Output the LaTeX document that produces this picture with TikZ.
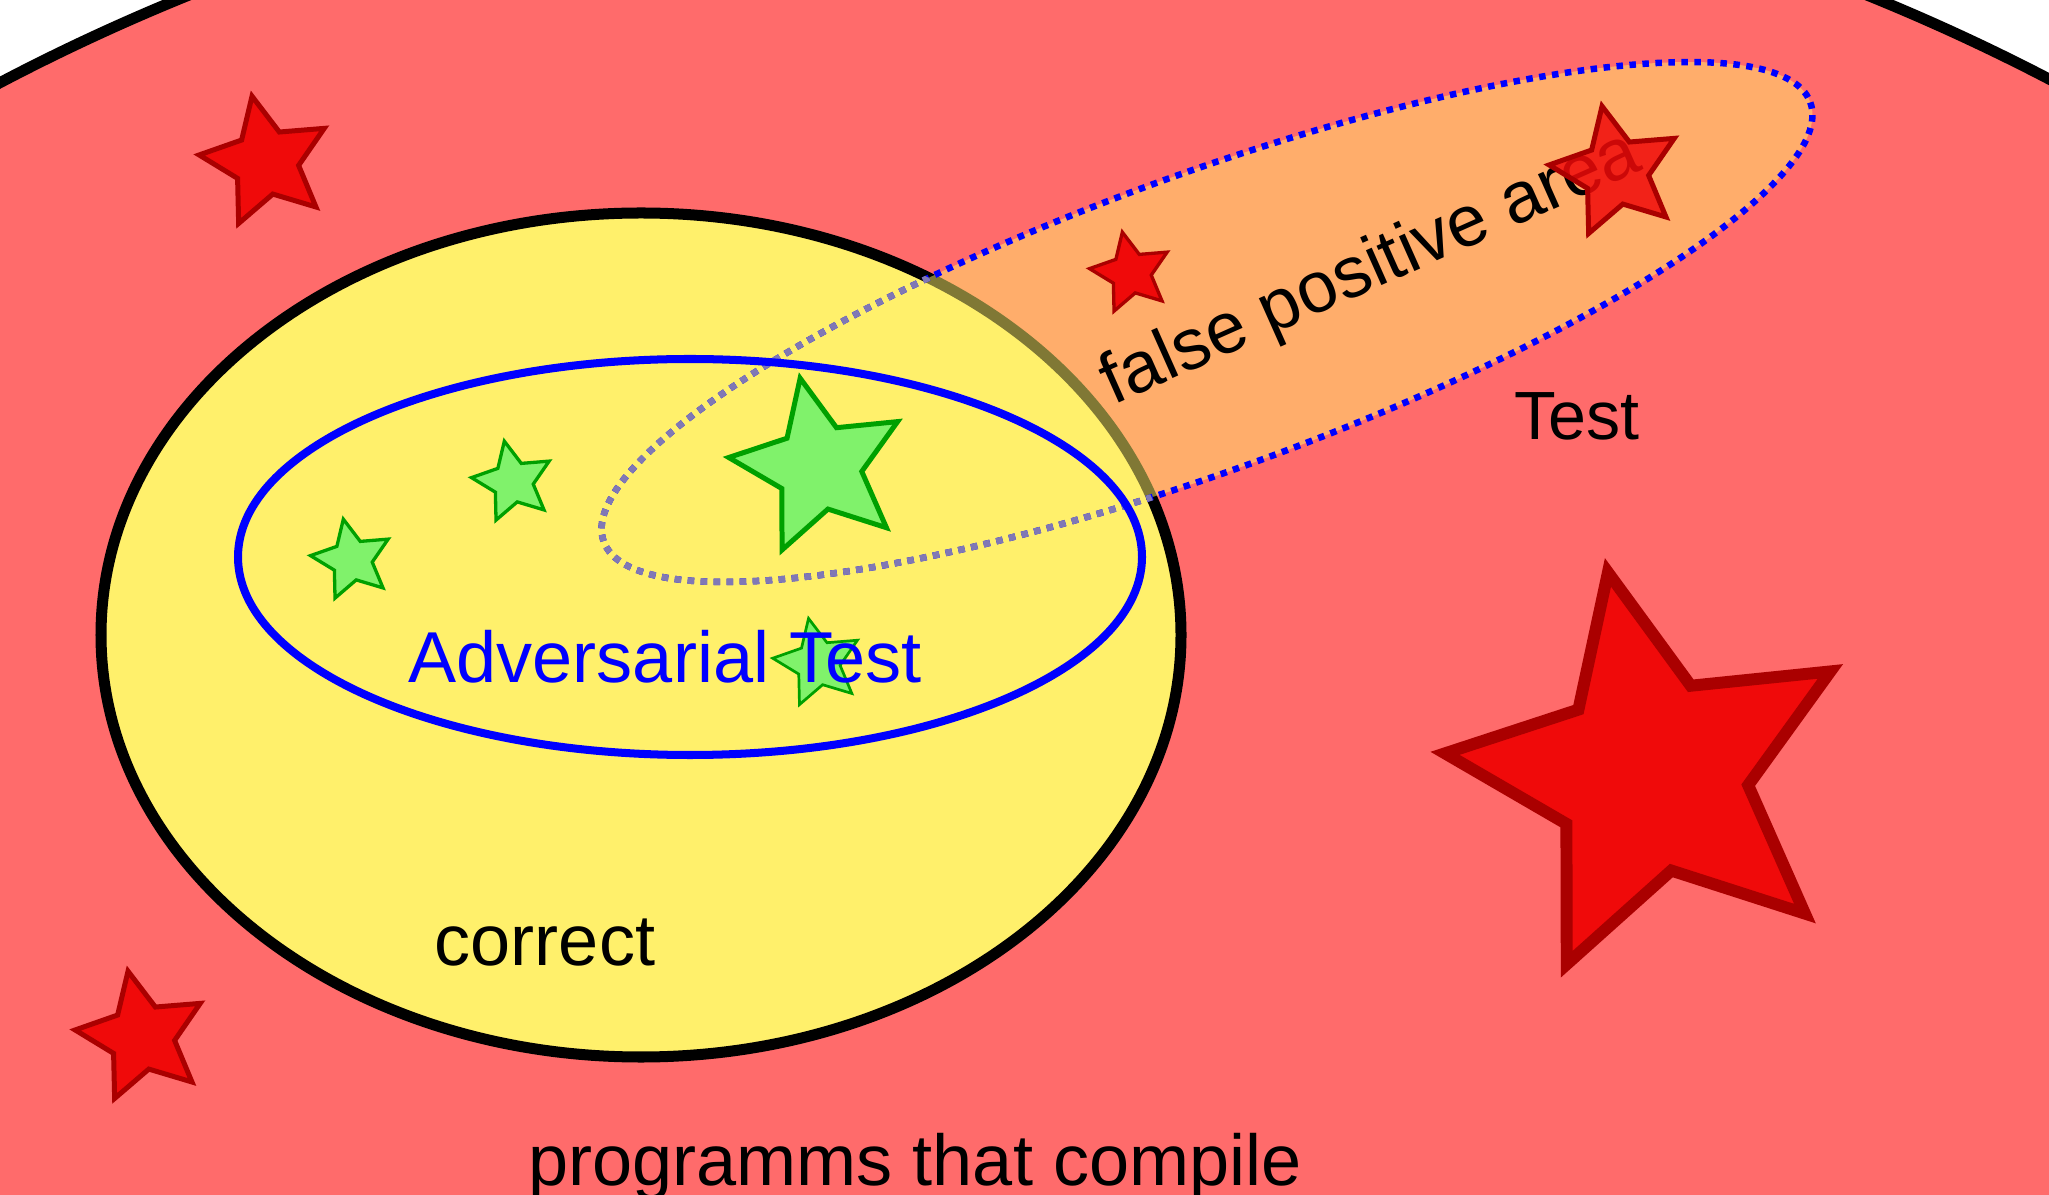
\documentclass[tikz,border=0pt]{standalone}
\usepackage{fontspec}
\setmainfont{Liberation Sans}
\usetikzlibrary{shapes.geometric}

\definecolor{compilered}{RGB}{255,107,107}
\definecolor{correctyellow}{RGB}{255,240,107}
\definecolor{starred}{RGB}{240,10,10}
\definecolor{stardarkred}{RGB}{170,0,0}
\definecolor{stargreen}{RGB}{128,242,107}
\definecolor{stardarkgreen}{RGB}{0,160,0}
\definecolor{dotgrey}{RGB}{128,120,181}

\begin{document}
\begin{tikzpicture}[x=0.01cm, y=-0.01cm,
    redstar/.style={star, star points=5, star point ratio=2.05, inner sep=0pt,
        rotate=12, fill=starred, draw=stardarkred, line width=1.42pt},
    greenstar/.style={star, star points=5, star point ratio=2.05, inner sep=0pt,
        rotate=12, fill=stargreen, draw=stardarkgreen, line width=0.94pt},
    areatext/.style={font=\fontsize{20.5}{24}\selectfont, anchor=base, inner sep=0pt},
    testdots/.style={line width=1.85pt, dash pattern=on 1.85pt off 1.85pt,
        rotate around={20:(1207,322)}}]

    \useasboundingbox (0,0) rectangle (2049,1195);
    \clip (0,0) rectangle (2049,1195);
    \fill[white] (0,0) rectangle (2049,1195);

    % Programs that compile - huge red set
    \draw[fill=compilered, line width=3.13pt] (1028,1585) ellipse [x radius=2000, y radius=1751];

    % Correct programs
    \draw[fill=correctyellow, line width=3.13pt] (641,635) ellipse [x radius=540, y radius=422];

    % Test set - half transparent yellow, dotted border
    \fill[correctyellow, fill opacity=0.5, rotate around={20:(1207,322)}]
        (1207,322) ellipse [x radius=642, y radius=148];
    \draw[blue, testdots] (1207,322) ellipse [x radius=642, y radius=148];
    \begin{scope}
        \clip (641,635) ellipse [x radius=540, y radius=422];
        \draw[dotgrey, testdots] (1207,322) ellipse [x radius=642, y radius=148];
    \end{scope}

    % Adversarial test set
    \draw[blue, line width=2.28pt] (690,557) ellipse [x radius=452, y radius=198];

    % Red stars (wrong programs)
    \node[redstar, minimum size=1.344cm] (redA) at (266,162) {};
    \node[redstar, minimum size=1.344cm] (redB) at (142,1037) {};
    \node[redstar, minimum size=0.834cm, line width=0.94pt] (redC) at (1131,273) {};
    \node[redstar, minimum size=4.14cm, star point ratio=2.12, line width=3.4pt] (redD) at (1651,775) {};

    % Green stars (correct programs)
    \foreach \name/\x/\y in {greenA/352/560, greenB/513/482} {
        \node[greenstar, minimum size=0.834cm] (\name) at (\x,\y) {};
    }
    \node[greenstar, minimum size=1.814cm, star point ratio=2.11, line width=1.42pt] (greenC) at (819,467) {};
    \node[greenstar, minimum size=0.91cm, line width=0.77pt] (greenD) at (818,663) {};

    % Labels
    \node[areatext] (compile) at (915,1185) {programms that compile};
    \node[areatext] (correct) at (545,965) {correct};
    \node[areatext, text=blue] (advtest) at (665,683) {Adversarial Test};
    \node[areatext, font=\fontsize{19.4}{23}\selectfont] (test) at (1577,440) {Test};
    \node[areatext, rotate=24] (fparea) at (1379,287) {false positive area};

    % star over the label, slightly see-through
    \node[redstar, minimum size=1.344cm, fill opacity=0.85] (redE) at (1616,172) {};

\end{tikzpicture}
\end{document}
